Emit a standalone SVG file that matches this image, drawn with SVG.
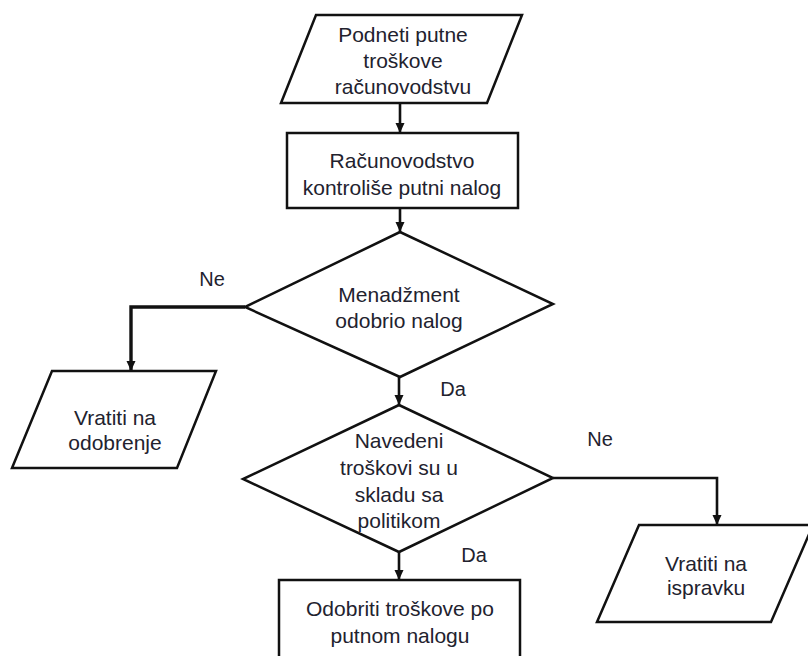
<svg xmlns="http://www.w3.org/2000/svg" width="808" height="656" viewBox="0 0 808 656">
<defs>
<style>
.shape{fill:#ffffff;stroke:#111111;stroke-width:2.5;stroke-linejoin:miter}
.conn{fill:none;stroke:#111111;stroke-width:2.6}
.thick{stroke-width:3.4}
.t{font-family:"Liberation Sans",Arial,sans-serif;font-size:21px;fill:#22222e;text-anchor:middle;dominant-baseline:central}
.lbl{font-family:"Liberation Sans",Arial,sans-serif;font-size:20px;fill:#22222e;text-anchor:middle;dominant-baseline:central}
</style>
<marker id="arr" markerUnits="userSpaceOnUse" markerWidth="12" markerHeight="12" viewBox="0 0 12 12" refX="11" refY="6" orient="auto">
<path d="M1,1.5 L11,6 L1,10.5 Z" fill="#111111"/>
</marker>
</defs>
<rect width="808" height="656" fill="#ffffff"/>

<g id="connectors">
<line class="conn" x1="400" y1="103" x2="400" y2="133" marker-end="url(#arr)"/>
<line class="conn" x1="400" y1="208" x2="400" y2="232" marker-end="url(#arr)"/>
<polyline class="conn thick" points="245,307 131,307 131,371" marker-end="url(#arr)"/>
<line class="conn" x1="399" y1="377" x2="399" y2="405" marker-end="url(#arr)"/>
<polyline class="conn" points="553,478 717,478 717,525" marker-end="url(#arr)"/>
<line class="conn" x1="399" y1="552" x2="399" y2="580" marker-end="url(#arr)"/>
<text class="lbl" x="212" y="279">Ne</text>
<text class="lbl" x="453" y="389">Da</text>
<text class="lbl" x="600" y="439">Ne</text>
<text class="lbl" x="474" y="555">Da</text>
</g>

<g id="n1">
<polygon class="shape" points="316,15 522,15 487,103 281,103"/>
<text class="t" x="403" y="34">Podneti putne</text>
<text class="t" x="403" y="60">troškove</text>
<text class="t" x="403" y="86">računovodstvu</text>
</g>

<g id="n2">
<rect class="shape" x="287" y="133" width="231" height="75"/>
<text class="t" x="402" y="160">Računovodstvo</text>
<text class="t" x="402" y="187">kontroliše putni nalog</text>
</g>

<g id="n3">
<polygon class="shape" points="400,232 553,304 400,377 245,307"/>
<text class="t" x="399" y="294">Menadžment</text>
<text class="t" x="399" y="320">odobrio nalog</text>
</g>

<g id="n4">
<polygon class="shape" points="52,371 216,371 177,468 12,468"/>
<text class="t" x="115" y="417">Vratiti na</text>
<text class="t" x="115" y="442">odobrenje</text>
</g>

<g id="n5">
<polygon class="shape" points="399,405 553,478 399,552 243,479"/>
<text class="t" x="399" y="440">Navedeni</text>
<text class="t" x="399" y="467">troškovi su u</text>
<text class="t" x="399" y="494">skladu sa</text>
<text class="t" x="399" y="520">politikom</text>
</g>

<g id="n6">
<polygon class="shape" points="639,525 813,525 771,622 597,622"/>
<text class="t" x="706" y="563">Vratiti na</text>
<text class="t" x="706" y="587">ispravku</text>
</g>

<g id="n7">
<rect class="shape" x="279" y="580" width="241" height="90"/>
<text class="t" x="400" y="608">Odobriti troškove po</text>
<text class="t" x="400" y="635">putnom nalogu</text>
</g>
</svg>
